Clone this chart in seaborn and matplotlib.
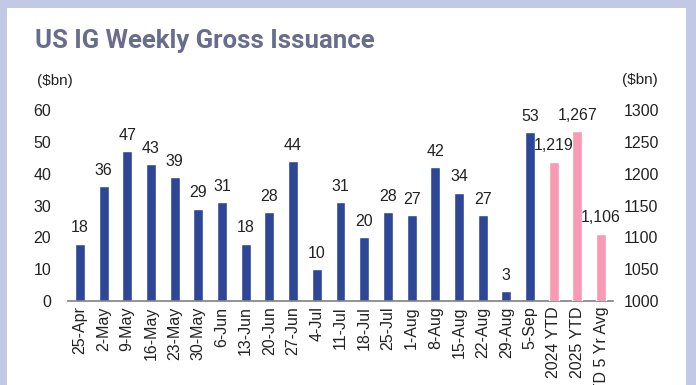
import matplotlib
matplotlib.use("Agg")
import matplotlib.pyplot as plt
import seaborn as sns
import pandas as pd
import numpy as np
from matplotlib.patches import Rectangle

weeks = ["25-Apr", "2-May", "9-May", "16-May", "23-May", "30-May", "6-Jun", "13-Jun",
         "20-Jun", "27-Jun", "4-Jul", "11-Jul", "18-Jul", "25-Jul", "1-Aug", "8-Aug",
         "15-Aug", "22-Aug", "29-Aug", "5-Sep"]
weekly_values = [18, 36, 47, 43, 39, 29, 31, 18, 28, 44, 10, 31, 20, 28, 27, 42, 34, 27, 3, 53]
ytd_labels = ["2024 YTD", "2025 YTD", "YTD 5 Yr Avg"]
ytd_values = [1219, 1267, 1106]
left_ticks = [0, 10, 20, 30, 40, 50, 60]
right_ticks = [1000, 1050, 1100, 1150, 1200, 1250, 1300]

order = weeks + ytd_labels
df_w = pd.DataFrame({"cat": weeks, "val": weekly_values})
df_y = pd.DataFrame({"cat": ytd_labels, "val": ytd_values})

navy = "#2d4796"
pink = "#f89ab3"
txt = "#222222"

sns.set_theme(style="white")
plt.rcParams["font.family"] = ["Liberation Sans", "DejaVu Sans"]

fig = plt.figure(figsize=(6.96, 3.85), dpi=100)
fig.patch.set_facecolor("#c2c9e6")
fig.patches.append(Rectangle((7 / 696, 0), (686 - 7) / 696, 1 - 8 / 385,
                             transform=fig.transFigure, facecolor="white",
                             edgecolor="none", zorder=-5))

ax = fig.add_axes([68 / 696, 1 - 301 / 385, (613 - 68) / 696, (301 - 110) / 385])
ax.set_facecolor("none")
ax2 = ax.twinx()
ax2.set_facecolor("none")

sns.barplot(data=df_w, x="cat", y="val", order=order, color=navy, width=0.42,
            saturation=1, ax=ax, errorbar=None)
sns.barplot(data=df_y, x="cat", y="val", order=order, color=pink, width=0.42,
            saturation=1, ax=ax2, errorbar=None)

ax.set_ylim(0, 60)
ax2.set_ylim(1000, 1300)
ax.set_xlim(-0.5, len(order) - 0.5)
ax.set_yticks(left_ticks)
ax2.set_yticks(right_ticks)
ax.set_xlabel("")
ax.set_ylabel("")
ax2.set_xlabel("")
ax2.set_ylabel("")

for a in (ax, ax2):
    for s in ("top", "left", "right", "bottom"):
        a.spines[s].set_visible(False)
    a.tick_params(length=0)
ax.spines["bottom"].set_visible(True)
ax.spines["bottom"].set_color("#7f7f7f")
ax.spines["bottom"].set_linewidth(1.2)

ax.tick_params(axis="y", labelsize=11.5, labelcolor=txt, pad=12)
ax2.tick_params(axis="y", labelsize=11.5, labelcolor=txt, pad=8)
ax.tick_params(axis="x", labelsize=11.5, labelcolor=txt, pad=4)
plt.setp(ax.get_xticklabels(), rotation=90, va="top", ha="center")

for c in ax.containers:
    ax.bar_label(c, labels=[f"{v:,.0f}" for v in weekly_values], padding=6,
                 fontsize=11.5, color=txt)
for c in ax2.containers:
    ax2.bar_label(c, labels=[f"{v:,.0f}" for v in ytd_values], padding=6,
                  fontsize=11.5, color=txt)

fig.text(37 / 696, 1 - 81 / 385, "($bn)", fontsize=11, color=txt, va="center", ha="left")
fig.text(622 / 696, 1 - 80 / 385, "($bn)", fontsize=11, color=txt, va="center", ha="left")

fig.text(35 / 696, 1 - 48 / 385, "US IG Weekly Gross Issuance", fontsize=18.5,
         fontweight="bold", color="#686d8c", va="baseline", ha="left",
         family=["Roboto", "Liberation Sans", "DejaVu Sans"])

fig.savefig("out.png", dpi=100, facecolor=fig.get_facecolor())
